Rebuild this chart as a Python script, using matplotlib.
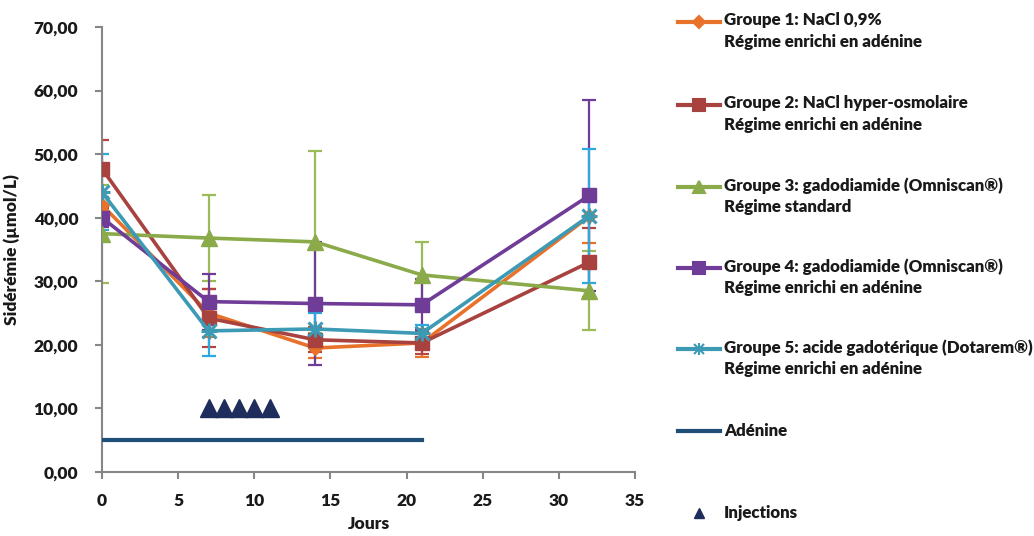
import matplotlib
matplotlib.use("Agg")
import matplotlib.pyplot as plt
from matplotlib.lines import Line2D
from matplotlib.ticker import FuncFormatter

plt.rcParams['font.family'] = ['Lato', 'DejaVu Sans']
plt.rcParams['font.weight'] = 'heavy'

days = [0, 7, 14, 21, 32]
labels = [
    "Groupe 1: NaCl 0,9%\nRégime enrichi en adénine",
    "Groupe 2: NaCl hyper-osmolaire\nRégime enrichi en adénine",
    "Groupe 3: gadodiamide (Omniscan®)\nRégime standard",
    "Groupe 4: gadodiamide (Omniscan®)\nRégime enrichi en adénine",
    "Groupe 5: acide gadotérique (Dotarem®)\nRégime enrichi en adénine",
]
g1 = [42.0, 25.0, 19.5, 20.3, 40.2]
g2 = [47.7, 24.2, 20.8, 20.3, 33.0]
g3 = [37.5, 36.8, 36.2, 31.0, 28.5]
g4 = [40.0, 26.8, 26.5, 26.3, 43.5]
g5 = [44.0, 22.2, 22.5, 21.8, 40.3]
e1 = [2.0, 3.8, 1.5, 2.2, 4.2]
e2 = [4.5, 4.6, 2.0, 1.8, 5.4]
e3 = [7.7, 6.7, 14.3, 5.2, 6.2]
e4 = [1.5, 4.4, 9.7, 4.0, 15.0]
e5 = [6.0, 4.0, 2.5, 1.3, 10.5]
series = [g1, g2, g3, g4, g5]
errors = [e1, e2, e3, e4, e5]
colors = ["#E8722A", "#A8423F", "#8BAA4A", "#6F3C98", "#3C9AB4"]
errcolors = ["#E8722A", "#B84440", "#9BBB59", "#6F3C98", "#2CA9DF"]
markers = ["D", "s", "^", "s", "x"]
msizes = [7, 10, 11, 10, 10]

adenine_x = [0, 21]
adenine_y = [5, 5]
inj_x = [7, 8, 9, 10, 11]
inj_y = [10, 10, 10, 10, 10]

TXT = '#1a1a1a'

fig = plt.figure(figsize=(10.34, 5.36), dpi=100)
ax = fig.add_axes([102/1034, 1-472/536, (635-102)/1034, (472-27)/536])

for i, (ys, es) in enumerate(zip(series, errors)):
    ax.errorbar(days, ys, yerr=es, fmt='none', ecolor=errcolors[i],
                elinewidth=1.6, capsize=5, capthick=1.6, zorder=2)
for i, ys in enumerate(series):
    mew = 2.2 if markers[i] == 'x' else 1
    ax.plot(days, ys, color=colors[i], lw=2.6, marker=markers[i],
            ms=msizes[i], mew=mew, mec=colors[i], mfc=colors[i], zorder=3)
    if markers[i] == 'x':
        ax.plot(days, ys, ls='none', marker='+', ms=msizes[i] + 2, mew=2.2,
                color=colors[i], zorder=3)

ax.plot(adenine_x, adenine_y, color="#1F4E79", lw=3, zorder=3)
ax.plot(inj_x, inj_y, ls='none', marker='^', ms=13, color="#1F2D5C", zorder=3)

ax.set_xlim(0, 35)
ax.set_ylim(0, 70)
ax.set_xticks(range(0, 36, 5))
ax.set_yticks(range(0, 71, 10))
ax.yaxis.set_major_formatter(FuncFormatter(lambda v, p: f"{v:.2f}".replace('.', ',')))
for s in ['top', 'right']:
    ax.spines[s].set_visible(False)
for s in ['left', 'bottom']:
    ax.spines[s].set_color('#868686')
    ax.spines[s].set_linewidth(1.5)
ax.tick_params(axis='both', colors='#868686', labelcolor=TXT, labelsize=12.5,
               width=1.5, length=5)
ax.tick_params(axis='y', pad=12)
ax.tick_params(axis='x', pad=10)
for lab in ax.get_xticklabels() + ax.get_yticklabels():
    lab.set_fontweight('heavy')
ax.set_xlabel("Jours", fontsize=12.5, fontweight='heavy', labelpad=5, color=TXT)
ax.set_ylabel("Sidérémie (µmol/L)", fontsize=12.5, fontweight='heavy', labelpad=10, color=TXT)

# Legend (manual)
def px(x, y):
    return x / 1034, 1 - y / 536

entry_y = [22, 105, 187, 268, 349, 431, 513]
for i in range(5):
    x0, y0 = px(678, entry_y[i])
    x1, _ = px(720, entry_y[i])
    fig.add_artist(Line2D([x0, x1], [y0, y0], color=colors[i], lw=3,
                          transform=fig.transFigure))
    xm, _ = px(699, entry_y[i])
    mk = markers[i]
    ms = {"D": 6, "s": 8, "^": 8, "x": 7}[mk]
    fig.add_artist(Line2D([xm], [y0], marker=mk, ms=ms, color=colors[i],
                          mew=1.5, transform=fig.transFigure))
    if mk == 'x':
        fig.add_artist(Line2D([xm], [y0], marker='+', ms=ms + 2, color=colors[i],
                              mew=1.5, transform=fig.transFigure))
    tx, ty = px(724, entry_y[i] - 10)
    fig.text(tx, ty, labels[i], fontsize=12.2, fontweight='heavy', va='top',
             ha='left', linespacing=1.45, color=TXT)

x0, y0 = px(678, entry_y[5])
x1, _ = px(720, entry_y[5])
fig.add_artist(Line2D([x0, x1], [y0, y0], color="#1F4E79", lw=3,
                      transform=fig.transFigure))
tx, ty = px(724, entry_y[5])
fig.text(tx, ty, "Adénine", fontsize=12.2, fontweight='heavy', va='center',
         ha='left', color=TXT)
xm, ym = px(699, entry_y[6])
fig.add_artist(Line2D([xm], [ym], marker='^', ms=7, color="#1F2D5C", ls='none',
                      transform=fig.transFigure))
tx, ty = px(724, entry_y[6])
fig.text(tx, ty, "Injections", fontsize=12.2, fontweight='heavy', va='center',
         ha='left', color=TXT)

fig.savefig("out.png", dpi=100)
